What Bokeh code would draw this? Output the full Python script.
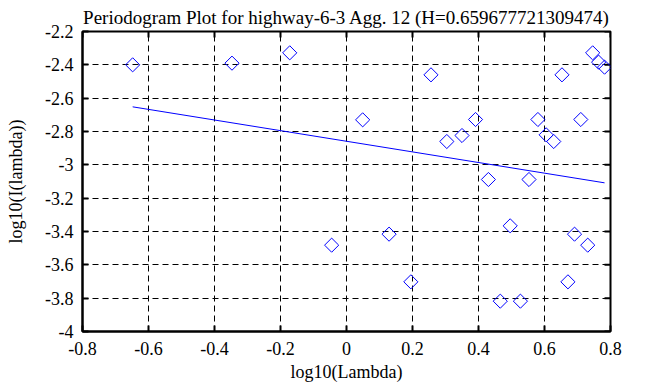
import math
from bokeh.plotting import figure
from bokeh.models import FixedTicker, ColumnDataSource
from bokeh.embed import file_html
from bokeh.resources import INLINE

title_text = "Periodogram Plot for highway-6-3 Agg. 12 (H=0.659677721309474)"
x_label = "log10(Lambda)"
y_label = "log10(I(lambda))"

# data points (log10 frequency, log10 periodogram)
pts_x = [-0.648, -0.347, -0.172, -0.045, 0.049, 0.129, 0.195, 0.256, 0.304,
         0.350, 0.391, 0.430, 0.466, 0.496, 0.527, 0.553, 0.580, 0.605,
         0.628, 0.653, 0.671, 0.691, 0.710, 0.731, 0.746, 0.764, 0.782]
pts_y = [-2.400, -2.390, -2.328, -3.482, -2.730, -3.416, -3.702, -2.460, -2.860,
         -2.824, -2.728, -3.088, -3.818, -3.366, -3.818, -3.088, -2.728, -2.820,
         -2.860, -2.460, -3.702, -3.416, -2.728, -3.482, -2.328, -2.384, -2.414]

# fitted regression line end points
line_x = [-0.648, 0.782]
line_y = [-2.652, -3.108]

x_ticks = [-0.8, -0.6, -0.4, -0.2, 0.0, 0.2, 0.4, 0.6, 0.8]
x_tick_labels = ["-0.8", "-0.6", "-0.4", "-0.2", "0", "0.2", "0.4", "0.6", "0.8"]
y_ticks = [-4.0, -3.8, -3.6, -3.4, -3.2, -3.0, -2.8, -2.6, -2.4, -2.2]
y_tick_labels = ["-4", "-3.8", "-3.6", "-3.4", "-3.2", "-3", "-2.8", "-2.6", "-2.4", "-2.2"]

x_min, x_max = -0.8, 0.8
y_min, y_max = -4.0, -2.2

FONT = "Liberation Serif"
BLUE = "#0000ff"

p = figure(frame_width=528, frame_height=300,
           x_range=(x_min, x_max), y_range=(y_min, y_max),
           output_backend="svg", toolbar_location=None,
           min_border_left=82, min_border_right=53,
           min_border_top=31, min_border_bottom=56,
           title=title_text)

p.title.text_font = FONT
p.title.text_font_size = "19px"
p.title.text_font_style = "normal"
p.title.text_color = "black"
p.title.align = "center"
p.title.standoff = 8
p.title.offset = 0

p.outline_line_color = "black"
p.outline_line_width = 2
p.background_fill_color = "white"
p.border_fill_color = "white"

xt = FixedTicker(ticks=x_ticks)
yt = FixedTicker(ticks=y_ticks)

for ax, ticker, labels in ((p.xaxis[0], xt, x_tick_labels), (p.yaxis[0], yt, y_tick_labels)):
    ax.ticker = ticker
    ax.major_label_overrides = {t: l for t, l in zip(ticker.ticks, labels)}
    ax.major_label_text_font = FONT
    ax.major_label_text_font_size = "18px"
    ax.major_label_text_color = "black"
    ax.axis_label_text_font = FONT
    ax.axis_label_text_font_size = "18px"
    ax.axis_label_text_font_style = "normal"
    ax.axis_label_text_color = "black"
    ax.major_tick_in = 6
    ax.major_tick_out = 0
    ax.major_tick_line_width = 2
    ax.minor_tick_line_color = None
    ax.axis_line_width = 2

p.xaxis.axis_label = x_label
p.yaxis.axis_label = y_label
p.xaxis.major_label_standoff = 10
p.yaxis.major_label_standoff = 9
p.xaxis.axis_label_standoff = 4
p.yaxis.axis_label_standoff = 16

# inward ticks on the top and right frame edges
p.ray(x=x_ticks, y=[y_max] * len(x_ticks), length=6, length_units="screen",
      angle=-math.pi / 2, line_color="black", line_width=2)
p.ray(x=[x_max] * len(y_ticks), y=y_ticks, length=6, length_units="screen",
      angle=math.pi, line_color="black", line_width=2)

p.xgrid.ticker = xt
p.ygrid.ticker = yt
for g in (p.xgrid[0], p.ygrid[0]):
    g.grid_line_color = "black"
    g.grid_line_dash = "6 4"
    g.grid_line_width = 1
    g.grid_line_alpha = 1.0

src = ColumnDataSource(dict(x=pts_x, y=pts_y))
p.scatter("x", "y", source=src, marker="square", size=10, angle=math.pi / 4,
          fill_color=None, line_color=BLUE, line_width=1)
p.line(line_x, line_y, line_color=BLUE, line_width=1)

open("out.html", "w").write(file_html(p, INLINE))
